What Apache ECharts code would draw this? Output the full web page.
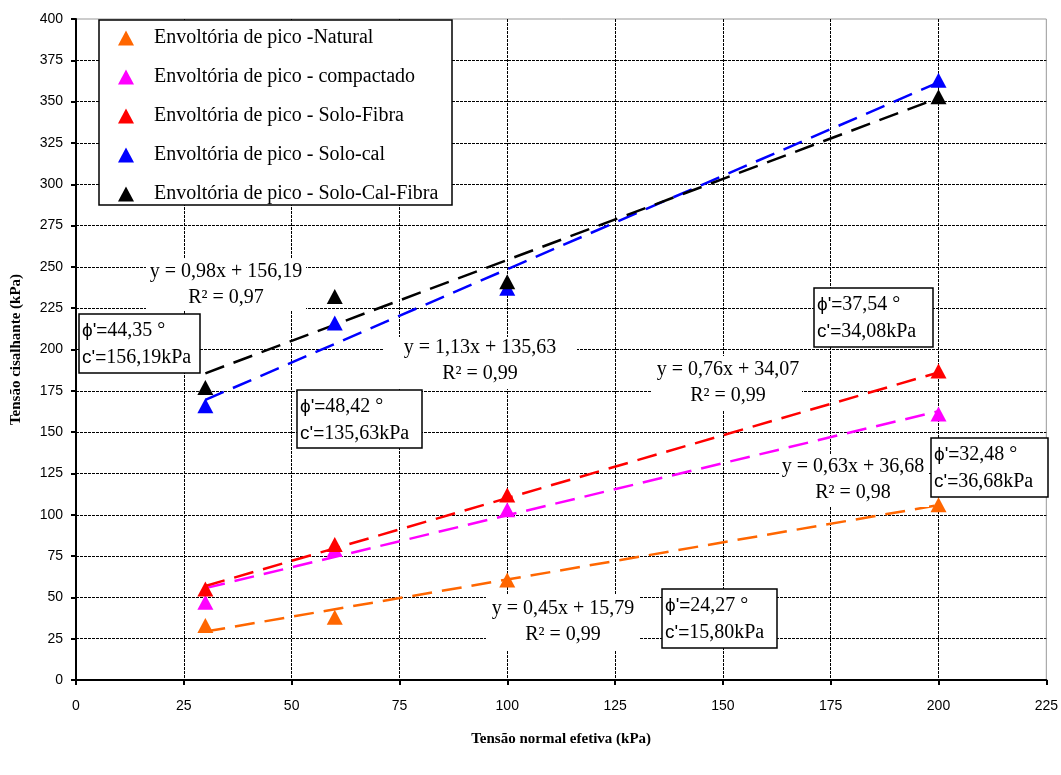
<!DOCTYPE html>
<html>
<head>
<meta charset="utf-8">
<title>Envoltórias de pico</title>
<script src="https://cdn.jsdelivr.net/npm/echarts@6.0.0/dist/echarts.min.js"></script>
<style>
  html, body { margin: 0; padding: 0; background: #fff; }
  #chart { width: 1061px; height: 775px; }
</style>
</head>
<body>
<div id="chart"></div>
<script>
// tensões normais dos ensaios (kPa)
var sigma = [30, 60, 100, 200];

// tensão cisalhante de pico (kPa)
var natural = [33, 38, 60.5, 106];
var compactado = [47, 79, 103, 161];
var soloFibra = [55, 82, 112, 187];
var soloCal = [166, 216, 237, 363];
var soloCalFibra = [177, 232, 241, 353];

// extremos das linhas de tendência
var trendX = [30, 200];
var trendNatural = [29.3, 105.8];
var trendCompactado = [55.6, 162.7];
var trendSoloFibra = [56.9, 186.1];
var trendSoloCal = [169.5, 361.6];
var trendSoloCalFibra = [185.6, 352.2];

var names = [
    'Envoltória de pico -Natural',
    'Envoltória de pico - compactado',
    'Envoltória de pico - Solo-Fibra',
    'Envoltória de pico - Solo-cal',
    'Envoltória de pico - Solo-Cal-Fibra'
];
var colors = ['#FF6600', '#FF00FF', '#FF0000', '#0000FF', '#000000'];
var points = [natural, compactado, soloFibra, soloCal, soloCalFibra];
var trends = [trendNatural, trendCompactado, trendSoloFibra, trendSoloCal, trendSoloCalFibra];

var serif = 'Liberation Serif, Times New Roman, serif';
var sans = 'Liberation Sans, Arial, sans-serif';

function pairs(xs, ys) {
    return xs.map(function (x, i) { return [x, ys[i]]; });
}

var series = [];
trends.forEach(function (t, i) {
    series.push({
        type: 'line',
        name: names[i] + ' (tendência)',
        data: pairs(trendX, t),
        symbol: 'none',
        silent: true,
        z: 2,
        lineStyle: {color: colors[i], width: 2.5, type: [20, 10]}
    });
});
points.forEach(function (p, i) {
    series.push({
        type: 'scatter',
        name: names[i],
        data: pairs(sigma, p),
        symbol: 'triangle',
        symbolSize: [16, 15],
        z: 3,
        itemStyle: {color: colors[i], opacity: 1}
    });
});

// caixa de texto com equação da reta
function equation(cx, top, rect, line1, line2) {
    return [
        {type: 'rect', z: 3, shape: rect, style: {fill: '#fff'}},
        {type: 'text', z: 4, x: cx, y: top, style: {
            text: line1 + '\n' + line2, fill: '#000', font: '20px ' + serif,
            lineHeight: 26, align: 'center', verticalAlign: 'top',
            textAlign: 'center', textVerticalAlign: 'top'
        }}
    ];
}

// caixa com parâmetros de resistência
function params(x, y, w, h, phi, c) {
    return [
        {type: 'rect', z: 3, shape: {x: x, y: y, width: w, height: h},
            style: {fill: '#fff', stroke: '#000', lineWidth: 1.5}},
        {type: 'text', z: 4, x: x + 3, y: y + 3, style: {
            text: '{s|ϕ\'=}{t|' + phi + ' °}\n{s|c\'=}{t|' + c + '}',
            fill: '#000', lineHeight: 27,
            align: 'left', verticalAlign: 'top',
            textAlign: 'left', textVerticalAlign: 'top',
            rich: {
                s: {font: '19px ' + sans, fill: '#000', lineHeight: 27},
                t: {font: '20px ' + serif, fill: '#000', lineHeight: 27}
            }
        }}
    ];
}

var graphic = [].concat(
    [{type: 'rect', z: 3, shape: {x: 99, y: 20, width: 353, height: 185},
        style: {fill: '#fff', stroke: '#000', lineWidth: 1.5}}],
    equation(226, 259, {x: 146, y: 259, width: 160, height: 52}, 'y = 0,98x + 156,19', 'R² = 0,97'),
    equation(480, 335, {x: 384, y: 337, width: 193, height: 52}, 'y = 1,13x + 135,63', 'R² = 0,99'),
    equation(728, 357, {x: 652, y: 356, width: 150, height: 55}, 'y = 0,76x + 34,07', 'R² = 0,99'),
    equation(853, 454, {x: 779, y: 455, width: 150, height: 52}, 'y = 0,63x + 36,68', 'R² = 0,98'),
    equation(563, 596, {x: 486, y: 595, width: 154, height: 55}, 'y = 0,45x + 15,79', 'R² = 0,99'),
    params(79, 314, 121, 59, '44,35', '156,19kPa'),
    params(297, 390, 125, 58, '48,42', '135,63kPa'),
    params(814, 288, 119, 59, '37,54', '34,08kPa'),
    params(931, 438, 117, 59, '32,48', '36,68kPa'),
    params(662, 589, 115, 59, '24,27', '15,80kPa')
);

var chart = echarts.init(document.getElementById('chart'));
chart.setOption({
    animation: false,
    backgroundColor: '#fff',
    grid: {
        left: 76, right: 13, top: 19, bottom: 95,
        show: true, borderColor: '#999', borderWidth: 1, backgroundColor: 'transparent'
    },
    legend: {
        data: names,
        orient: 'vertical',
        left: 113,
        top: 23,
        itemWidth: 16,
        itemHeight: 15,
        itemGap: 19,
        icon: 'triangle',
        selectedMode: false,
        z: 5,
        textStyle: {
            fontFamily: serif, fontSize: 20, color: '#000',
            padding: [0, 0, 0, 15]
        }
    },
    xAxis: {
        type: 'value',
        min: 0, max: 225, interval: 25,
        name: 'Tensão normal efetiva (kPa)',
        nameLocation: 'middle',
        nameGap: 52,
        nameTextStyle: {fontFamily: serif, fontSize: 15, fontWeight: 'bold', color: '#000'},
        axisLine: {show: true, onZero: false, lineStyle: {color: '#000', width: 2}},
        axisTick: {show: true, length: 5, lineStyle: {color: '#000', width: 2}},
        axisLabel: {fontFamily: sans, fontSize: 14, color: '#000', margin: 19},
        splitLine: {show: true, showMaxLine: false, lineStyle: {color: '#000', width: 1, type: [3, 1]}}
    },
    yAxis: {
        type: 'value',
        min: 0, max: 400, interval: 25,
        name: 'Tensão cisalhante (kPa)',
        nameLocation: 'middle',
        nameGap: 52,
        nameTextStyle: {fontFamily: serif, fontSize: 15, fontWeight: 'bold', color: '#000'},
        axisLine: {show: true, onZero: false, lineStyle: {color: '#000', width: 2}},
        axisTick: {show: true, length: 5, lineStyle: {color: '#000', width: 2}},
        axisLabel: {fontFamily: sans, fontSize: 14, color: '#000', margin: 13},
        splitLine: {show: true, showMaxLine: false, lineStyle: {color: '#000', width: 1, type: [3, 1]}}
    },
    graphic: graphic,
    series: series
});
</script>
</body>
</html>
